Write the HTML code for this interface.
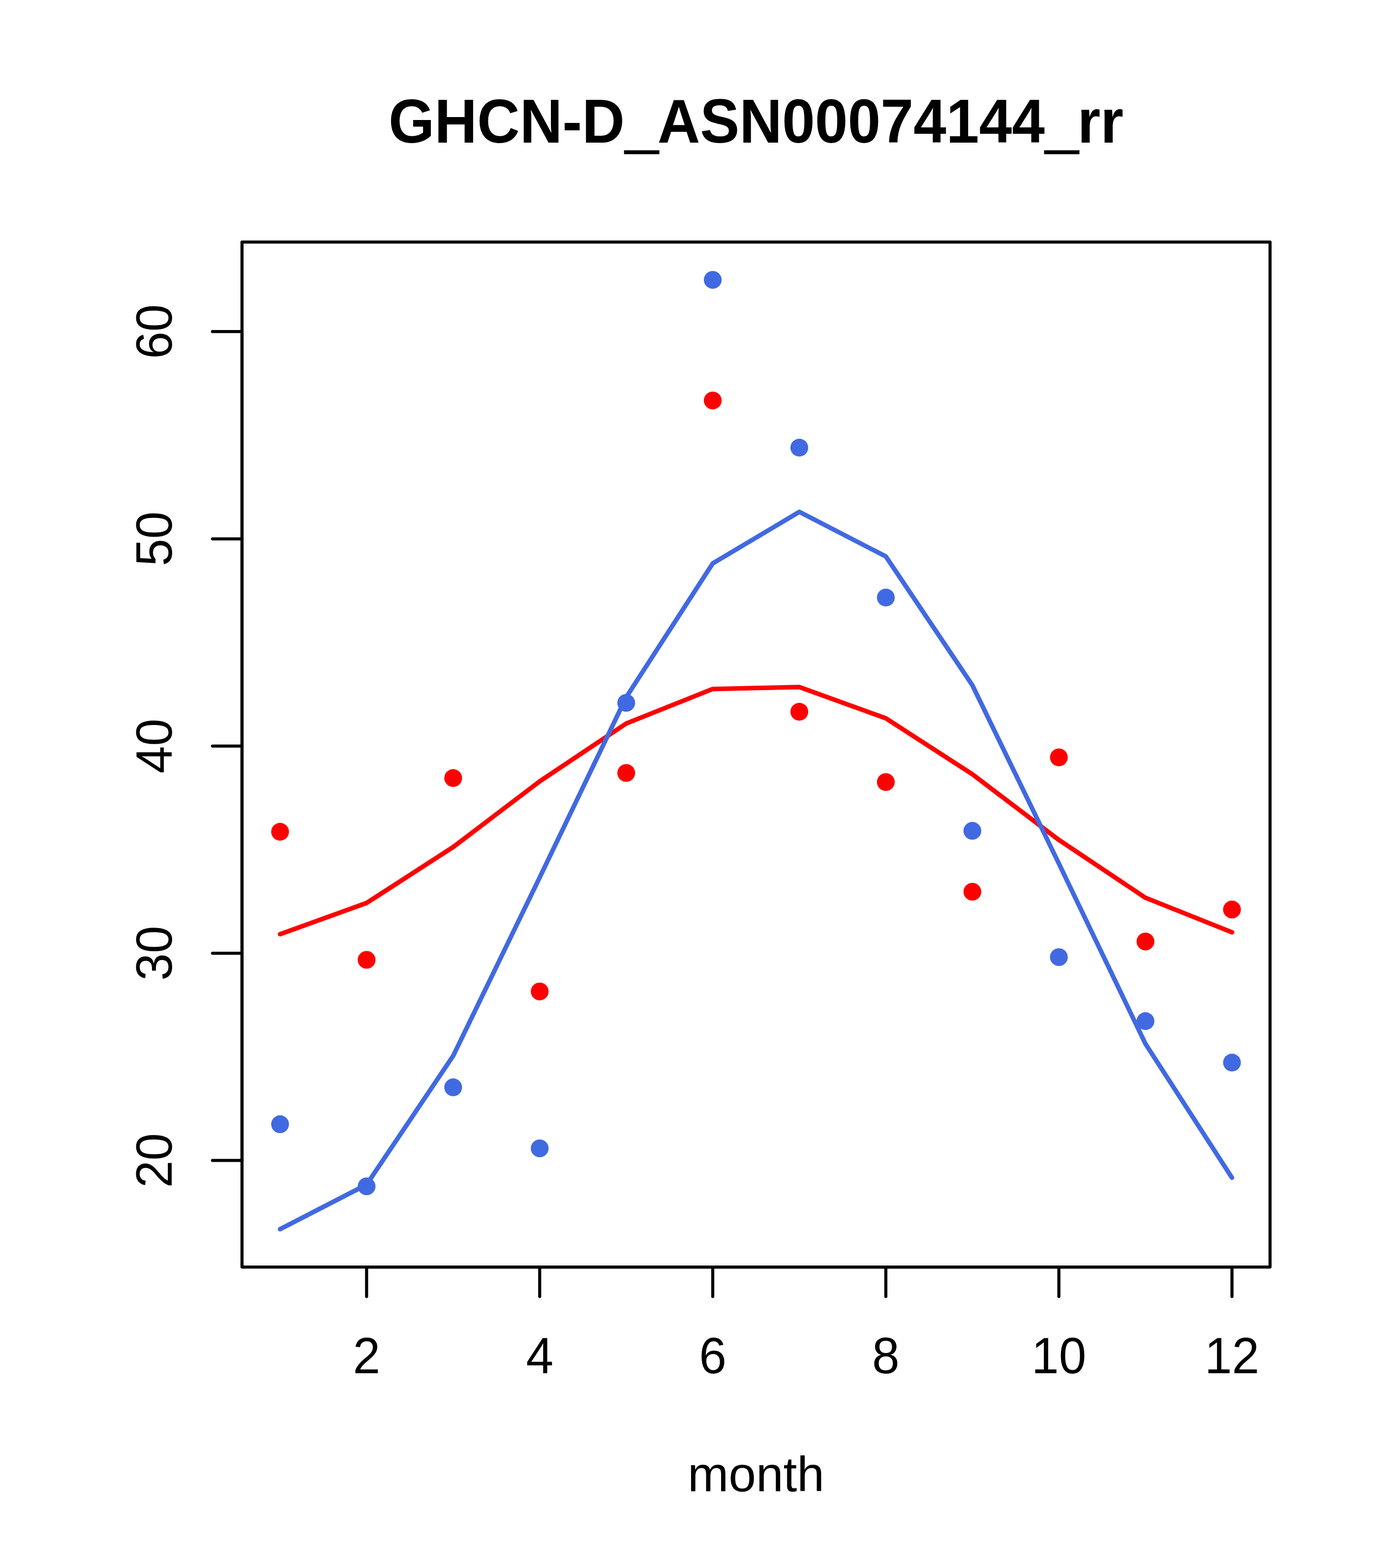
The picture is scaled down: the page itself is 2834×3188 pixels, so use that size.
<!DOCTYPE html>
<html lang="en">
<head>
<meta charset="utf-8">
<title>GHCN-D_ASN00074144_rr</title>
<style>
html,body{margin:0;padding:0;background:#fff;}
body{width:2834px;height:3188px;overflow:hidden;}
svg{display:block;}
text{font-family:"Liberation Sans",sans-serif;fill:#000;}
.ax{font-size:100px;}
.main{font-size:120px;font-weight:bold;}
.us{stroke:#000;stroke-width:3px;}
</style>
</head>
<body>
<svg width="2834" height="3188" viewBox="0 0 2834 3188">
<rect x="0" y="0" width="2834" height="3188" fill="#fff"/>
<g id="red-points" fill="#FF0000">
<circle cx="569.4" cy="1691.1" r="18.1"/>
<circle cx="745.3" cy="1951.5" r="18.1"/>
<circle cx="921.3" cy="1581.9" r="18.1"/>
<circle cx="1097.2" cy="2015.8" r="18.1"/>
<circle cx="1273.1" cy="1571.5" r="18.1"/>
<circle cx="1449.0" cy="814.3" r="18.1"/>
<circle cx="1625.0" cy="1447.1" r="18.1"/>
<circle cx="1800.9" cy="1590.0" r="18.1"/>
<circle cx="1976.8" cy="1813.0" r="18.1"/>
<circle cx="2152.7" cy="1539.9" r="18.1"/>
<circle cx="2328.7" cy="1914.3" r="18.1"/>
<circle cx="2504.6" cy="1849.2" r="18.1"/>
</g>
<polyline id="red-fit" fill="none" stroke="#FF0000" stroke-width="9.30" stroke-linecap="round" stroke-linejoin="round" points="569.4,1899.4 745.3,1835.9 921.3,1722.2 1097.2,1588.6 1273.1,1471.0 1449.0,1400.8 1625.0,1396.9 1800.9,1460.4 1976.8,1574.1 2152.7,1707.7 2328.7,1825.3 2504.6,1895.5"/>
<g id="blue-points" fill="#4169E1">
<circle cx="569.4" cy="2285.7" r="18.1"/>
<circle cx="745.3" cy="2412.0" r="18.1"/>
<circle cx="921.3" cy="2210.7" r="18.1"/>
<circle cx="1097.2" cy="2334.8" r="18.1"/>
<circle cx="1273.1" cy="1429.0" r="18.1"/>
<circle cx="1449.0" cy="569.0" r="18.1"/>
<circle cx="1625.0" cy="910.1" r="18.1"/>
<circle cx="1800.9" cy="1214.9" r="18.1"/>
<circle cx="1976.8" cy="1689.2" r="18.1"/>
<circle cx="2152.7" cy="1946.0" r="18.1"/>
<circle cx="2328.7" cy="2076.1" r="18.1"/>
<circle cx="2504.6" cy="2160.4" r="18.1"/>
</g>
<polyline id="blue-fit" fill="none" stroke="#4169E1" stroke-width="9.30" stroke-linecap="round" stroke-linejoin="round" points="569.4,2499.1 745.3,2408.5 921.3,2146.7 1097.2,1784.0 1273.1,1417.5 1449.0,1145.5 1625.0,1040.7 1800.9,1131.4 1976.8,1393.1 2152.7,1755.8 2328.7,2122.3 2504.6,2394.4"/>
<g id="axes" fill="none" stroke="#000" stroke-width="6.25" stroke-linecap="round" stroke-linejoin="round">
<rect x="492" y="492" width="2090" height="2084"/>
<path d="M745.3 2576 H2504.6"/>
<path d="M745.3 2576 v60"/>
<path d="M1097.2 2576 v60"/>
<path d="M1449.0 2576 v60"/>
<path d="M1800.9 2576 v60"/>
<path d="M2152.7 2576 v60"/>
<path d="M2504.6 2576 v60"/>
<path d="M492 2359.4 V674.2"/>
<path d="M492 2359.4 h-60"/>
<path d="M492 1938.1 h-60"/>
<path d="M492 1516.8 h-60"/>
<path d="M492 1095.5 h-60"/>
<path d="M492 674.2 h-60"/>
</g>
<g id="x-labels" class="ax" text-anchor="middle">
<text transform="translate(745.3 2792.3) scale(1 1.03)">2</text>
<text transform="translate(1097.2 2792.3) scale(1 1.03)">4</text>
<text transform="translate(1449.0 2792.3) scale(1 1.03)">6</text>
<text transform="translate(1800.9 2792.3) scale(1 1.03)">8</text>
<text transform="translate(2152.7 2792.3) scale(1 1.03)">10</text>
<text transform="translate(2504.6 2792.3) scale(1 1.03)">12</text>
<text x="1537" y="3032">month</text>
</g>
<g id="y-labels" class="ax" text-anchor="middle">
<text transform="translate(348.7 2359.4) rotate(-90) scale(1 1.03)">20</text>
<text transform="translate(348.7 1938.1) rotate(-90) scale(1 1.03)">30</text>
<text transform="translate(348.7 1516.8) rotate(-90) scale(1 1.03)">40</text>
<text transform="translate(348.7 1095.5) rotate(-90) scale(1 1.03)">50</text>
<text transform="translate(348.7 674.2) rotate(-90) scale(1 1.03)">60</text>
</g>
<text class="main" text-anchor="middle" transform="translate(1537 289.9) scale(1 1.046)">GHCN-D<tspan class="us" dx="1.3" dy="6.6">_</tspan><tspan dx="-1.3" dy="-6.6">ASN00074144</tspan><tspan class="us" dx="1.3" dy="6.6">_</tspan><tspan dx="-1.3" dy="-6.6">rr</tspan></text>
</svg>
</body>
</html>
